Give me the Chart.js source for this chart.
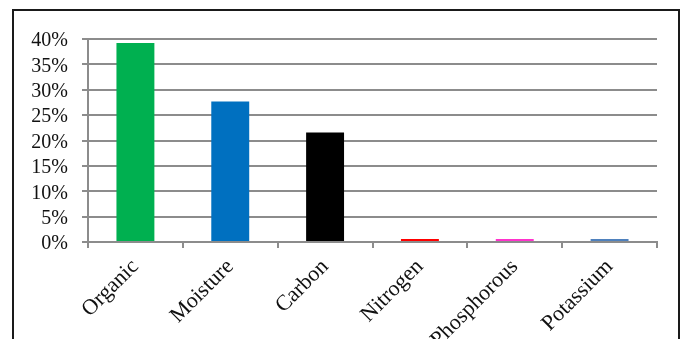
<!DOCTYPE html>
<html>
<head>
<meta charset="utf-8">
<script src="https://cdn.jsdelivr.net/npm/chart.js@4/dist/chart.umd.min.js"></script>
<style>
    html, body { margin: 0; padding: 0; background: #fff; }
    #wrap { position: relative; width: 688px; height: 339px; overflow: hidden; }
    #frame { position: absolute; left: 12px; top: 9px; width: 664px; height: 400px; border: 2px solid #1a1a1a; }
    #c { position: absolute; left: 0; top: 0; }
</style>
</head>
<body>
<div id="wrap">
    <div id="frame"></div>
    <canvas id="c" width="688" height="339"></canvas>
</div>
<script>
// soil composition bar chart

const CATEGORIES = ['Organic', 'Moisture', 'Carbon', 'Nitrogen', 'Phosphorous', 'Potassium'];
const VALUES = [39.2, 27.7, 21.6, 0.6, 0.6, 0.6];
const BAR_COLORS = ['#00B050', '#0070C0', '#000000', '#FF0000', '#FF33CC', '#4F81BD'];

const GRID = '#8c8c8c';
const TEXT = '#111';
const SERIF = '"Liberation Serif", "Times New Roman", serif';

new Chart(document.getElementById('c'), {
    type: 'bar',
    data: {
        labels: CATEGORIES,
        datasets: [{ data: VALUES, backgroundColor: BAR_COLORS, borderWidth: 0, categoryPercentage: 1, barPercentage: 0.4 }]
    },
    options: {
        responsive: false, animation: false,
        layout: { padding: { top: 39, right: 31, left: 0, bottom: 0 } },
        plugins: { legend: { display: false }, tooltip: { enabled: false } },
        scales: {
            y: {
                min: 0, max: 40,
                afterFit: s => { s.width = 88; },
                ticks: { stepSize: 5, autoSkip: false, color: TEXT, font: { family: SERIF, size: 20 }, padding: 14, labelOffset: 2, callback: v => v + '%' },
                grid: { color: GRID, lineWidth: 2, tickLength: 6 },
                border: { color: GRID, width: 2 }
            },
            x: {
                afterFit: s => { s.height = 97; },
                ticks: { color: TEXT, font: { family: SERIF, size: 22 }, minRotation: 45, maxRotation: 45, autoSkip: false, padding: 6 },
                grid: { color: GRID, lineWidth: 2, tickLength: 6, drawOnChartArea: false, offset: true },
                border: { color: GRID, width: 2 }
            }
        }
    }
});
</script>
</body>
</html>
